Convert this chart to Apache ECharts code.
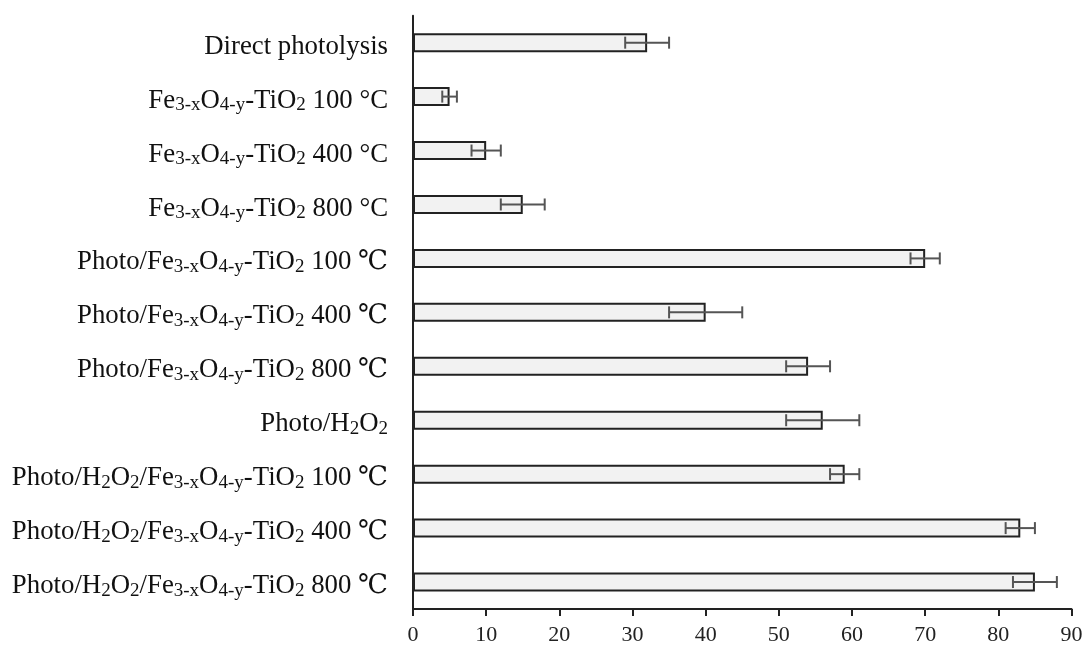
<!DOCTYPE html>
<html>
<head>
<meta charset="utf-8">
<script src="https://cdn.jsdelivr.net/npm/echarts@6/dist/echarts.min.js"></script>
<style>html,body{margin:0;padding:0;background:#fff;}#c{width:1086px;height:646px;}</style>
</head>
<body>
<div id="c"></div>
<script>
// Category labels; text between underscores is a subscript
const categories = [
  'Direct photolysis',
  'Fe_3-x_O_4-y_-TiO_2_ 100 °C',
  'Fe_3-x_O_4-y_-TiO_2_ 400 °C',
  'Fe_3-x_O_4-y_-TiO_2_ 800 °C',
  'Photo/Fe_3-x_O_4-y_-TiO_2_ 100 ℃',
  'Photo/Fe_3-x_O_4-y_-TiO_2_ 400 ℃',
  'Photo/Fe_3-x_O_4-y_-TiO_2_ 800 ℃',
  'Photo/H_2_O_2',
  'Photo/H_2_O_2_/Fe_3-x_O_4-y_-TiO_2_ 100 ℃',
  'Photo/H_2_O_2_/Fe_3-x_O_4-y_-TiO_2_ 400 ℃',
  'Photo/H_2_O_2_/Fe_3-x_O_4-y_-TiO_2_ 800 ℃'
];
const values = [32, 5, 10, 15, 70, 40, 54, 56, 59, 83, 85];
const errors = [3, 1, 2, 3, 2, 5, 3, 5, 2, 2, 3];
const xTicks = [0, 10, 20, 30, 40, 50, 60, 70, 80, 90];

const FONT = '"Liberation Serif", "Times New Roman", "DejaVu Serif", serif';

function toRich(label) {
  const parts = label.split('_');
  let out = '';
  parts.forEach((p, i) => {
    if (!p) return;
    out += (i % 2 === 0 ? '{n|' : '{s|') + p + '}';
  });
  return out;
}

const errData = categories.map((c, i) => [i, values[i] - errors[i], values[i] + errors[i]]);

const chart = echarts.init(document.getElementById('c'), null, {renderer: 'canvas'});
chart.setOption({
  animation: false,
  backgroundColor: '#ffffff',
  grid: {left: 413, right: 14.5, top: 15.7, bottom: 37, containLabel: false},
  xAxis: {
    type: 'value', min: xTicks[0], max: xTicks[xTicks.length - 1], interval: 10,
    axisLine: {show: true, lineStyle: {color: '#222', width: 2}},
    axisTick: {show: true, length: 7, lineStyle: {color: '#222', width: 2}},
    splitLine: {show: false},
    axisLabel: {color: '#222', fontFamily: FONT, fontSize: 22, margin: 15}
  },
  yAxis: {
    type: 'category', data: categories, inverse: true,
    axisLine: {show: true, lineStyle: {color: '#222', width: 2}},
    axisTick: {show: false},
    axisLabel: {
      margin: 25,
      formatter: v => toRich(v),
      rich: {
        n: {fontSize: 26.8, lineHeight: 27, fontFamily: FONT, color: '#111', verticalAlign: 'top', padding: [4, 0, 0, 0]},
        s: {fontSize: 19, lineHeight: 19, fontFamily: FONT, color: '#111', verticalAlign: 'top', padding: [12.8, 0, 0, 0]}
      }
    }
  },
  series: [
    {
      type: 'bar', data: values, barWidth: 19,
      itemStyle: {color: '#f2f2f2', borderColor: '#222', borderWidth: 2}
    },
    {
      type: 'custom', data: errData, encode: {x: [1, 2], y: 0}, z: 5,
      renderItem: function (params, api) {
        const yi = api.value(0);
        const lo = api.coord([api.value(1), yi]);
        const hi = api.coord([api.value(2), yi]);
        const h = 6;
        const st = {stroke: '#555', lineWidth: 2};
        return {
          type: 'group',
          children: [
            {type: 'line', shape: {x1: lo[0], y1: lo[1], x2: hi[0], y2: hi[1]}, style: st},
            {type: 'line', shape: {x1: lo[0], y1: lo[1] - h, x2: lo[0], y2: lo[1] + h}, style: st},
            {type: 'line', shape: {x1: hi[0], y1: hi[1] - h, x2: hi[0], y2: hi[1] + h}, style: st}
          ]
        };
      }
    }
  ]
});
</script>
</body>
</html>
